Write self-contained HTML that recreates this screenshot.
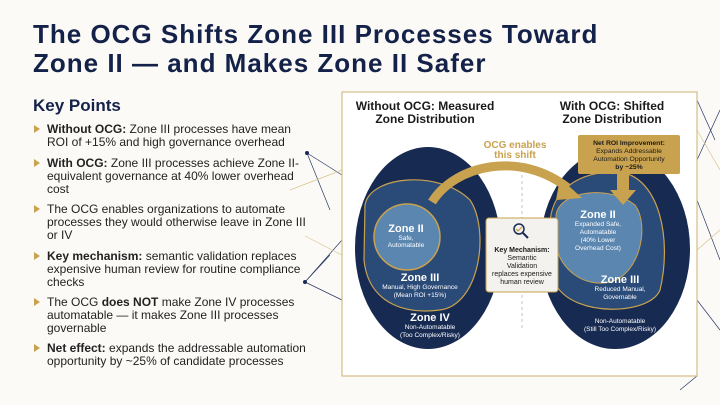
<!DOCTYPE html>
<html><head><meta charset="utf-8"><style>
body{margin:0;width:720px;height:405px;background:#fbfaf6;font-family:"Liberation Sans",sans-serif;position:relative;overflow:hidden;color:#1a2540}
.t{position:absolute;left:33px;top:20px;font-size:26px;font-weight:bold;line-height:29px;color:#14224a;letter-spacing:1px}
.kp{position:absolute;left:33px;top:96px;font-size:17px;font-weight:bold;color:#14224a}
.b{position:absolute;left:47px;font-size:12px;line-height:13px;color:#222;width:265px}
.b:before{content:"";position:absolute;left:-13px;top:2px;border-left:6px solid #c9a24f;border-top:4.5px solid transparent;border-bottom:4.5px solid transparent}
svg{position:absolute;left:0;top:0}
</style></head><body>
<svg width="720" height="405" viewBox="0 0 720 405" font-family="Liberation Sans, sans-serif">
<g stroke="#2a3a66" stroke-width="0.7" fill="none">
<path d="M307 153 L342 175 M307 153 L330 210 M305 282 L342 240 M305 282 L342 300 M305 282 L330 255"/>
<path d="M697 100 L715 140 M697 160 L720 110 M697 200 L720 260 M697 300 L720 330 M680 390 L697 376"/>
</g>
<g stroke="#d9c48e" stroke-width="0.7" fill="none"><path d="M290 190 L342 170 M305 236 L342 255 M697 130 L720 170 M697 250 L720 230"/></g>
<circle cx="307" cy="153" r="2" fill="#1a2a55"/><circle cx="305" cy="282" r="2" fill="#1a2a55"/>
<rect x="342" y="92" width="355" height="284" fill="#fff" stroke="#d4bd85" stroke-width="1.2"/>
<line x1="522" y1="175" x2="522" y2="330" stroke="#aaa" stroke-dasharray="3,3" stroke-width="0.7"/>
<text font-weight="bold" font-size="12" fill="#1a1a1a" text-anchor="middle"><tspan x="425" y="110">Without OCG: Measured</tspan><tspan x="425" y="123">Zone Distribution</tspan><tspan x="612" y="110">With OCG: Shifted</tspan><tspan x="612" y="123">Zone Distribution</tspan></text>
<!-- left -->
<ellipse cx="428" cy="248" rx="73" ry="101" fill="#172a52"/>
<path d="M365 205 C370 175 440 170 470 200 C490 230 480 305 440 310 C400 315 368 300 364 260 Z" fill="#2a4a78" stroke="#c9a24f" stroke-width="1.2"/>
<circle cx="407" cy="237" r="33" fill="#5a86b0" stroke="#c9a24f" stroke-width="1.5"/>
<g fill="#fff" text-anchor="middle">
<text x="406" y="232" font-size="11" font-weight="bold">Zone II</text>
<text font-size="6.5"><tspan x="406" y="240">Safe,</tspan><tspan x="406" y="247">Automatable</tspan></text>
<text x="420" y="281" font-size="11" font-weight="bold">Zone III</text>
<text font-size="6.5"><tspan x="420" y="289">Manual, High Governance</tspan><tspan x="420" y="297">(Mean ROI +15%)</tspan></text>
<text x="430" y="321" font-size="11" font-weight="bold">Zone IV</text>
<text font-size="6.5"><tspan x="430" y="329">Non-Automatable</tspan><tspan x="430" y="337">(Too Complex/Risky)</tspan></text>
</g>
<!-- right -->
<ellipse cx="615" cy="249" rx="75" ry="100" fill="#172a52"/>
<path d="M550 230 C548 190 580 170 620 172 C660 178 672 240 660 290 C650 315 575 318 556 285 Z" fill="#2a4a78" stroke="#c9a24f" stroke-width="1.2"/>
<path d="M556 215 C560 190 610 185 635 205 C650 225 640 275 610 282 C585 288 560 270 556 245 Z" fill="#5a86b0" stroke="#c9a24f" stroke-width="1"/>
<g fill="#fff" text-anchor="middle">
<text x="598" y="218" font-size="11" font-weight="bold">Zone II</text>
<text font-size="6.5"><tspan x="598" y="226">Expanded Safe,</tspan><tspan x="598" y="234">Automatable</tspan><tspan x="598" y="242">(40% Lower</tspan><tspan x="598" y="250">Overhead Cost)</tspan></text>
<text x="620" y="283" font-size="11" font-weight="bold">Zone III</text>
<text font-size="6.5"><tspan x="620" y="291">Reduced Manual,</tspan><tspan x="620" y="299">Governable</tspan></text>
<text font-size="6.5"><tspan x="620" y="323">Non-Automatable</tspan><tspan x="620" y="331">(Still Too Complex/Risky)</tspan></text>
</g>
<!-- arrow -->
<path d="M432 202 C455 165 520 150 568 188" fill="none" stroke="#c9a24f" stroke-width="9"/>
<polygon points="560,178 582,198 556,200" fill="#c9a24f"/>
<text font-weight="bold" font-size="10" fill="#c9a24f" text-anchor="middle"><tspan x="515" y="148">OCG enables</tspan><tspan x="515" y="158">this shift</tspan></text>
<rect x="578" y="135" width="102" height="39" rx="2" fill="#c9a24f"/>
<polygon points="617,174 629,174 629,190 636,190 623,205 610,190 617,190" fill="#c9a24f"/>
<text font-size="6.8" fill="#1a1a1a" text-anchor="middle"><tspan x="629" y="145" font-weight="bold">Net ROI Improvement:</tspan><tspan x="629" y="153">Expands Addressable</tspan><tspan x="629" y="161">Automation Opportunity</tspan><tspan x="629" y="169" font-weight="bold">by ~25%</tspan></text>
<rect x="486" y="218" width="72" height="74" rx="3" fill="#f3f2ee" stroke="#c9a24f" stroke-width="1"/>
<circle cx="519" cy="229" r="5" fill="none" stroke="#1a2a55" stroke-width="1.5"/><line x1="523" y1="233" x2="528" y2="238" stroke="#1a2a55" stroke-width="2"/>
<path d="M516 229 l2 2 l4 -4" stroke="#c9a24f" fill="none" stroke-width="1.3"/>
<text font-size="7" fill="#1a1a1a" text-anchor="middle"><tspan x="522" y="252" font-weight="bold">Key Mechanism:</tspan><tspan x="522" y="260">Semantic</tspan><tspan x="522" y="268">Validation</tspan><tspan x="522" y="276">replaces expensive</tspan><tspan x="522" y="284">human review</tspan></text>
</svg>
<div class="t">The OCG Shifts Zone III Processes Toward<br>Zone II — and Makes Zone II Safer</div>
<div class="kp">Key Points</div>
<div class="b" style="top:123px"><b>Without OCG:</b> Zone III processes have mean ROI of +15% and high governance overhead</div>
<div class="b" style="top:157px"><b>With OCG:</b> Zone III processes achieve Zone II-equivalent governance at 40% lower overhead cost</div>
<div class="b" style="top:203px">The OCG enables organizations to automate processes they would otherwise leave in Zone III or IV</div>
<div class="b" style="top:250px"><b>Key mechanism:</b> semantic validation replaces expensive human review for routine compliance checks</div>
<div class="b" style="top:296px">The OCG <b>does NOT</b> make Zone IV processes automatable — it makes Zone III processes governable</div>
<div class="b" style="top:342px"><b>Net effect:</b> expands the addressable automation opportunity by ~25% of candidate processes</div>
</body></html>
